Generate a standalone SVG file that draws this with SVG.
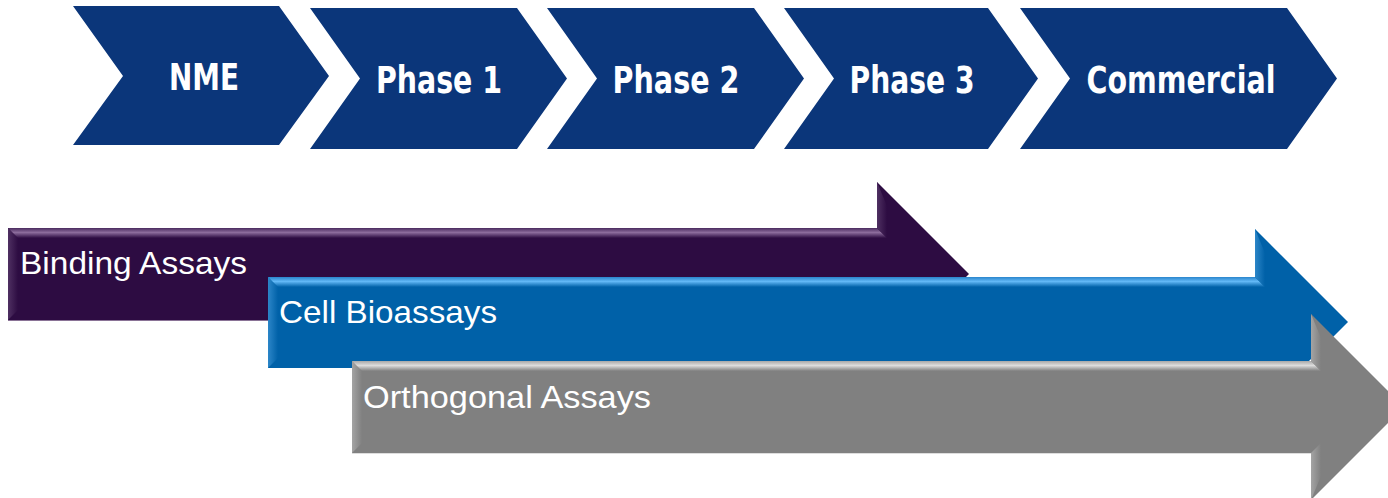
<svg xmlns="http://www.w3.org/2000/svg" width="1388" height="498" viewBox="0 0 1388 498">
  <defs>
    <style>
      .chev { fill: #0b367a; }
      .chev-label { font-family: "DejaVu Sans", "Liberation Sans", sans-serif; font-weight: bold; font-stretch: condensed; font-size: 37px; fill: #ffffff; text-anchor: middle; }
      .bar-label { font-family: "Liberation Sans", Arial, sans-serif; font-size: 32px; fill: #ffffff; }
    </style>
    <!-- bevel gradients: top band lit in the middle, vertical edges fading inward -->
    <linearGradient id="pTop" x1="0" y1="0" x2="0" y2="1">
      <stop offset="0" stop-color="#4a2a5e"/>
      <stop offset="0.45" stop-color="#8c6c9c"/>
      <stop offset="1" stop-color="#2d0c42"/>
    </linearGradient>
    <linearGradient id="pSide" x1="0" y1="0" x2="1" y2="0">
      <stop offset="0" stop-color="#4f3062"/>
      <stop offset="1" stop-color="#2d0c42"/>
    </linearGradient>
    <linearGradient id="bTop" x1="0" y1="0" x2="0" y2="1">
      <stop offset="0" stop-color="#2a85cc"/>
      <stop offset="0.45" stop-color="#62b8f6"/>
      <stop offset="1" stop-color="#0061a8"/>
    </linearGradient>
    <linearGradient id="bSide" x1="0" y1="0" x2="1" y2="0">
      <stop offset="0" stop-color="#2c86c8"/>
      <stop offset="1" stop-color="#0061a8"/>
    </linearGradient>
    <linearGradient id="gTop" x1="0" y1="0" x2="0" y2="1">
      <stop offset="0" stop-color="#a8a8a8"/>
      <stop offset="0.45" stop-color="#dcdcdc"/>
      <stop offset="1" stop-color="#808080"/>
    </linearGradient>
    <linearGradient id="gSide" x1="0" y1="0" x2="1" y2="0">
      <stop offset="0" stop-color="#a4a4a4"/>
      <stop offset="1" stop-color="#808080"/>
    </linearGradient>
  </defs>

  <rect width="1388" height="498" fill="#ffffff"/>

  <!-- stage chevrons -->
  <g id="stage-nme">
    <polygon class="chev" points="73,6 279,6 329,76 279,145 73,145 123,76"/>
    <text class="chev-label" x="204" y="90" textLength="70" lengthAdjust="spacingAndGlyphs">NME</text>
  </g>
  <g id="stage-phase1">
    <polygon class="chev" points="310,8 517,8 567,78.5 517,149 310,149 360,78.5"/>
    <text class="chev-label" x="439" y="93" textLength="126" lengthAdjust="spacingAndGlyphs">Phase 1</text>
  </g>
  <g id="stage-phase2">
    <polygon class="chev" points="547,8 754,8 804,78.5 754,149 547,149 597,78.5"/>
    <text class="chev-label" x="676" y="93" textLength="127" lengthAdjust="spacingAndGlyphs">Phase 2</text>
  </g>
  <g id="stage-phase3">
    <polygon class="chev" points="784,8 988,8 1038,78.5 988,149 784,149 834,78.5"/>
    <text class="chev-label" x="912" y="93" textLength="125" lengthAdjust="spacingAndGlyphs">Phase 3</text>
  </g>
  <g id="stage-commercial">
    <polygon class="chev" points="1020,8 1287,8 1337,78.5 1287,149 1020,149 1070,78.5"/>
    <text class="chev-label" x="1181" y="93" textLength="189" lengthAdjust="spacingAndGlyphs">Commercial</text>
  </g>

  <!-- assay block arrows, drawn back to front -->
  <g id="arrow-binding">
    <polygon fill="#2d0c42" points="8,228 877,228 877,182 969,274 877,366 877,320 8,320"/>
    <polygon fill="url(#pSide)" points="8,228 18,238 18,310 8,320"/>
    <polygon fill="url(#pTop)" points="8,228 877,228 887,238 18,238"/>
    <polygon fill="url(#pSide)" points="877,182 887,206 887,238 877,228"/>
    <line x1="8" y1="320.5" x2="877" y2="320.5" stroke="#8a7396" stroke-width="1"/>
    <text class="bar-label" x="20" y="274" textLength="227" lengthAdjust="spacingAndGlyphs">Binding Assays</text>
  </g>

  <g id="arrow-cell">
    <polygon fill="#0061a8" points="268,277 1255,277 1255,229 1348,322 1255,415 1255,368 268,368"/>
    <polygon fill="url(#bSide)" points="268,277 278,287 278,358 268,368"/>
    <polygon fill="url(#bTop)" points="268,277 1255,277 1265,287 278,287"/>
    <polygon fill="url(#bSide)" points="1255,229 1265,253 1265,287 1255,277"/>
    <text class="bar-label" x="279" y="323" textLength="218" lengthAdjust="spacingAndGlyphs">Cell Bioassays</text>
  </g>

  <g id="arrow-orthogonal">
    <polygon fill="#808080" points="352,361 1311,361 1311,314 1404,407 1311,500 1311,453 352,453"/>
    <polygon fill="url(#gSide)" points="352,361 362,371 362,443 352,453"/>
    <polygon fill="url(#gTop)" points="352,361 1311,361 1321,371 362,371"/>
    <polygon fill="url(#gSide)" points="1311,314 1321,338 1321,371 1311,361"/>
    <polygon fill="url(#gSide)" points="1311,453 1321,443 1321,476 1311,500"/>
    <line x1="352" y1="453.5" x2="1311" y2="453.5" stroke="#dddddd" stroke-width="1"/>
    <text class="bar-label" x="363" y="408" textLength="288" lengthAdjust="spacingAndGlyphs">Orthogonal Assays</text>
  </g>
</svg>
